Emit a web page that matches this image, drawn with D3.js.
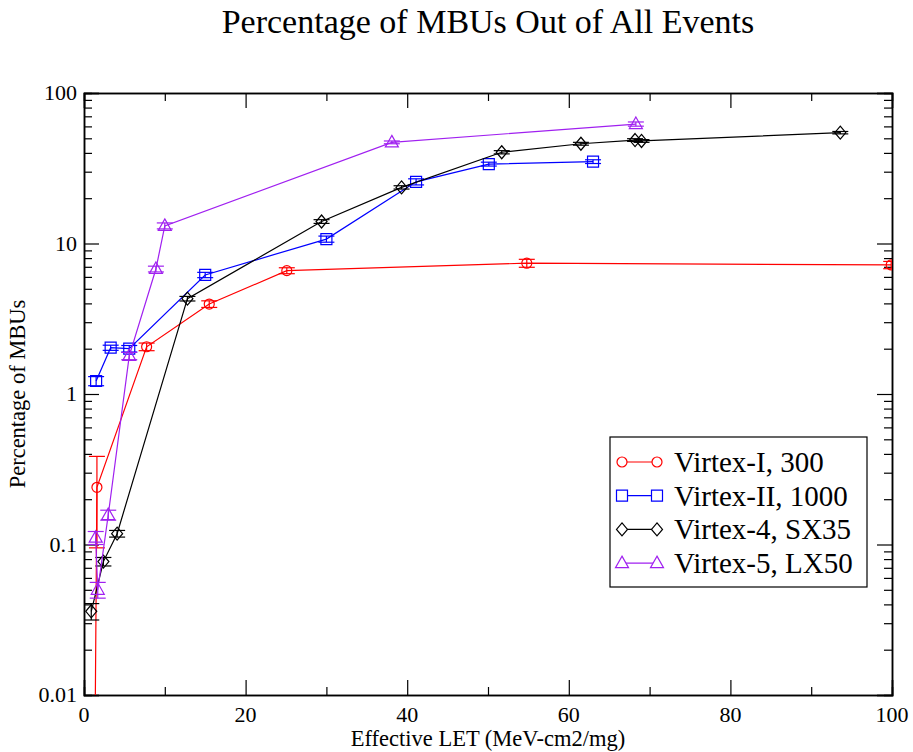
<!DOCTYPE html>
<html>
<head>
<meta charset="utf-8">
<script src="https://cdn.jsdelivr.net/npm/d3@7"></script>
<style>
  body { margin: 0; background: #fff; }
  text { font-family: "Liberation Serif", "DejaVu Serif", serif; fill: #000; }
</style>
</head>
<body>
<div id="vis"></div>
<script>
// Data (LET, percentage, symmetric error)
const seriesNames = ['Virtex-I, 300', 'Virtex-II, 1000', 'Virtex-4, SX35', 'Virtex-5, LX50']

const v1LET = [1.35, 1.6, 7.75, 15.5, 25.1, 54.8, 99.9]
const v1Pct = [0.004, 0.24, 2.06, 3.96, 6.6, 7.4, 7.2]
const v1Err = [0, 0.145, 0.12, 0.2, 0.3, 0.45, 0.4]

const v2LET = [1.5, 3.3, 5.6, 15.0, 30.0, 41.1, 50.1, 63.0]
const v2Pct = [1.22, 2.03, 2.0, 6.18, 10.7, 25.7, 33.7, 35]
const v2Err = [0.085, 0.08, 0.1, 0.25, 0.5, 1.2, 1.0, 1.0]

const v4LET = [0.9, 2.4, 4.1, 12.8, 29.4, 39.3, 51.7, 61.5, 68.2, 69.0, 93.6]
const v4Pct = [0.036, 0.077, 0.118, 4.3, 14.0, 23.6, 40.4, 46, 48.7, 48, 54.5]
const v4Err = [0.0045, 0.005, 0.006, 0.15, 0.4, 0.6, 1, 1, 1, 1, 1]

const v5LET = [1.45, 1.7, 3.0, 5.6, 8.9, 10.0, 38.1, 68.3]
const v5Pct = [0.111, 0.05, 0.157, 1.79, 6.77, 13.1, 47, 62.2]
const v5Err = [0.011, 0.006, 0.012, 0.1, 0.3, 0.6, 1.0, 2.0]

const xTicks = [0, 20, 40, 60, 80, 100]
const yTicks = [0.01, 0.1, 1, 10, 100]
const yTickLabels = ['0.01', '0.1', '1', '10', '100']

const colors = ['#ff0000', '#0000ff', '#000000', '#a020f0']
const shapes = ['circle', 'square', 'diamond', 'triangle']

function zipSeries(xs, ys, es){
    return xs.map((x, i) => ({x: x, y: ys[i], e: es[i]}))
}

const series = [
    zipSeries(v1LET, v1Pct, v1Err),
    zipSeries(v2LET, v2Pct, v2Err),
    zipSeries(v4LET, v4Pct, v4Err),
    zipSeries(v5LET, v5Pct, v5Err)
]

const margin = {left: 84, top: 93, right: 21, bottom: 57}
const width = 913 - margin.left - margin.right
const height = 752 - margin.top - margin.bottom

const xScale = d3.scaleLinear([0, 100], [0, width])
const yScale = d3.scaleLog([0.01, 100], [height, 0])

let svg = d3.select('#vis')
    .append('svg')
    .attr('width', 913)
    .attr('height', 752)

// Title and axis titles
svg.append('text')
    .attr('x', margin.left + width / 2)
    .attr('y', 33)
    .attr('text-anchor', 'middle')
    .style('font-size', '34px')
    .text('Percentage of MBUs Out of All Events')

svg.append('text')
    .attr('x', margin.left + width / 2)
    .attr('y', 746)
    .attr('text-anchor', 'middle')
    .style('font-size', '22.5px')
    .text('Effective LET (MeV-cm2/mg)')

svg.append('text')
    .attr('transform', `translate(25, ${margin.top + height / 2}) rotate(-90)`)
    .attr('text-anchor', 'middle')
    .style('font-size', '22.5px')
    .text('Percentage of MBUs')

let g = svg.append('g')
    .attr('transform', `translate(${margin.left}, ${margin.top})`)

g.append('clipPath')
    .attr('id', 'plot-clip')
    .append('rect')
    .attr('width', width)
    .attr('height', height)

// Axes: ticks inward on all four sides
const xMinor = d3.range(0, 101, 10).filter(v => v % 20 !== 0)
const yMinor = []
for (let d = 0.01; d < 100; d *= 10) {
    for (let k = 2; k <= 9; k++) yMinor.push(+(d * k).toPrecision(3))
}

g.append('g')
    .attr('transform', `translate(0, ${height})`)
    .call(d3.axisTop(xScale).tickValues(xTicks).tickSize(15).tickFormat(''))
g.append('g')
    .attr('transform', `translate(0, ${height})`)
    .call(d3.axisTop(xScale).tickValues(xMinor).tickSize(8).tickFormat(''))
g.append('g')
    .call(d3.axisBottom(xScale).tickValues(xTicks).tickSize(15).tickFormat(''))
g.append('g')
    .call(d3.axisBottom(xScale).tickValues(xMinor).tickSize(8).tickFormat(''))
g.append('g')
    .call(d3.axisRight(yScale).tickValues(yTicks).tickSize(15).tickFormat(''))
g.append('g')
    .call(d3.axisRight(yScale).tickValues(yMinor).tickSize(8).tickFormat(''))
g.append('g')
    .attr('transform', `translate(${width}, 0)`)
    .call(d3.axisLeft(yScale).tickValues(yTicks).tickSize(15).tickFormat(''))
g.append('g')
    .attr('transform', `translate(${width}, 0)`)
    .call(d3.axisLeft(yScale).tickValues(yMinor).tickSize(8).tickFormat(''))

g.selectAll('.domain').attr('stroke', '#000').attr('stroke-width', 1.5)
g.selectAll('.tick line').attr('stroke', '#000').attr('stroke-width', 1.2)

g.selectAll('.x-label')
    .data(xTicks)
    .enter()
    .append('text')
    .attr('class', 'x-label')
    .attr('x', d => xScale(d))
    .attr('y', height + 27)
    .attr('text-anchor', 'middle')
    .style('font-size', '22px')
    .text(d => d)

g.selectAll('.y-label')
    .data(yTicks)
    .enter()
    .append('text')
    .attr('class', 'y-label')
    .attr('x', -7)
    .attr('y', d => yScale(d) + 7)
    .attr('text-anchor', 'end')
    .style('font-size', '22px')
    .text((d, i) => yTickLabels[i])

// Marker paths centred on 0,0
function markerPath(shape){
    if (shape === 'circle') return d3.symbol(d3.symbolCircle, Math.PI * 25)()
    if (shape === 'square') return 'M-5.5,-5.5H5.5V5.5H-5.5Z'
    if (shape === 'diamond') return 'M0,-6.5L5.5,0L0,6.5L-5.5,0Z'
    return 'M0,-7L6.5,4.5H-6.5Z'
}

let plot = g.append('g').attr('clip-path', 'url(#plot-clip)')

const line = d3.line()
    .x(d => xScale(d.x))
    .y(d => yScale(d.y))

series.forEach((data, s) => {
    let sg = plot.append('g').attr('class', 'series-' + s)

    sg.append('path')
        .datum(data)
        .attr('d', line)
        .attr('fill', 'none')
        .attr('stroke', colors[s])
        .attr('stroke-width', 1.2)

    // Error bars with caps
    let eb = sg.selectAll('.err')
        .data(data.filter(d => d.e > 0))
        .enter()
        .append('g')
        .attr('class', 'err')
        .attr('stroke', colors[s])
        .attr('stroke-width', 1.2)

    eb.append('line')
        .attr('x1', d => xScale(d.x))
        .attr('x2', d => xScale(d.x))
        .attr('y1', d => yScale(d.y + d.e))
        .attr('y2', d => yScale(Math.max(d.y - d.e, 1e-4)))
    eb.append('line')
        .attr('x1', d => xScale(d.x) - 8)
        .attr('x2', d => xScale(d.x) + 8)
        .attr('y1', d => yScale(d.y + d.e))
        .attr('y2', d => yScale(d.y + d.e))
    eb.append('line')
        .attr('x1', d => xScale(d.x) - 8)
        .attr('x2', d => xScale(d.x) + 8)
        .attr('y1', d => yScale(d.y - d.e))
        .attr('y2', d => yScale(d.y - d.e))

    sg.selectAll('.marker')
        .data(data)
        .enter()
        .append('path')
        .attr('class', 'marker')
        .attr('transform', d => `translate(${xScale(d.x)}, ${yScale(d.y)})`)
        .attr('d', markerPath(shapes[s]))
        .attr('fill', 'none')
        .attr('stroke', colors[s])
        .attr('stroke-width', 1.2)
})

// Legend
let legend = svg.append('g')
    .attr('class', 'legend')
    .attr('transform', 'translate(610, 437)')

legend.append('rect')
    .attr('width', 257)
    .attr('height', 150)
    .attr('fill', '#fff')
    .attr('stroke', '#000')
    .attr('stroke-width', 1.2)

seriesNames.forEach((name, s) => {
    let row = legend.append('g')
        .attr('transform', `translate(0, ${25 + s * 33.7})`)
    row.append('line')
        .attr('x1', 12)
        .attr('x2', 47)
        .attr('stroke', colors[s])
        .attr('stroke-width', 1.2)
    row.selectAll('.lm')
        .data([12, 47])
        .enter()
        .append('path')
        .attr('transform', d => `translate(${d}, 0)`)
        .attr('d', markerPath(shapes[s]))
        .attr('fill', '#fff')
        .attr('stroke', colors[s])
        .attr('stroke-width', 1.2)
    row.append('text')
        .attr('x', 64)
        .attr('y', 10)
        .style('font-size', '29px')
        .text(name)
})
</script>
</body>
</html>
